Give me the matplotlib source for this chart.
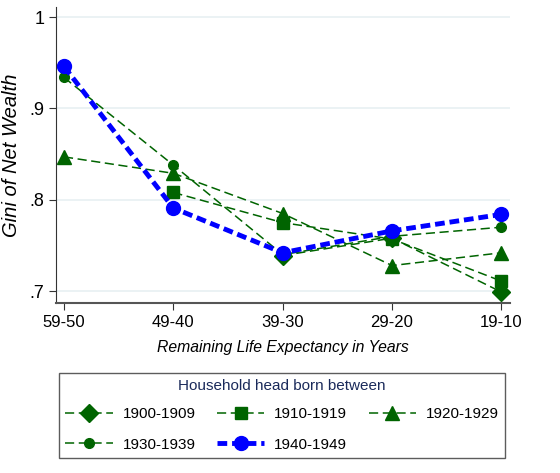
import matplotlib
matplotlib.use("Agg")
import matplotlib.pyplot as plt
import numpy as np

plt.rcParams['font.family'] = ['Liberation Sans', 'DejaVu Sans']

# age groups (remaining life expectancy)
groups = ['59-50', '49-40', '39-30', '29-20', '19-10']

# Gini of net wealth by birth cohort (None = not observed)
g1900 = [None, None, 0.739, 0.758, 0.699]
g1910 = [None, 0.808, 0.775, 0.757, 0.711]
g1920 = [0.847, 0.829, 0.785, 0.728, 0.742]
g1930 = [0.934, 0.838, 0.740, 0.760, 0.770]
g1940 = [0.946, 0.791, 0.742, 0.766, 0.784]

green = '#006400'
blue = '#0000ff'

fig = plt.figure(figsize=(5.6, 4.73), dpi=100)
ax = fig.add_axes([0.1, 0.3594, 0.811, 0.6256])

x = np.arange(len(groups))

def arr(v):
    return np.array([np.nan if a is None else a for a in v], dtype=float)

h1, = ax.plot(x, arr(g1900), color=green, ls='--', lw=1.1, marker='D', ms=9, dashes=(6, 3))
h2, = ax.plot(x, arr(g1910), color=green, ls='--', lw=1.1, marker='s', ms=9, dashes=(6, 3))
h3, = ax.plot(x, arr(g1920), color=green, ls='--', lw=1.1, marker='^', ms=10, dashes=(6, 3))
h4, = ax.plot(x, arr(g1930), color=green, ls='--', lw=1.1, marker='o', ms=7, dashes=(6, 3))
h5, = ax.plot(x, arr(g1940), color=blue, ls='--', lw=3.5, marker='o', ms=10, dashes=(2, 1))

ax.set_xlim(-0.073, 4.08)
ax.set_ylim(0.687, 1.011)
ax.set_xticks(x)
ax.set_xticklabels(groups, fontsize=12)
ax.set_yticks([0.7, 0.8, 0.9, 1.0])
ax.set_yticklabels(['.7', '.8', '.9', '1'], fontsize=13)
ax.grid(axis='y', color='#e8f0f2', lw=1.2)
ax.set_axisbelow(True)
for s in ['top', 'right']:
    ax.spines[s].set_visible(False)
ax.spines['left'].set_color('#333333')
ax.spines['bottom'].set_color('#555555')
ax.spines['bottom'].set_linewidth(1.5)
ax.tick_params(axis='both', color='#333333', length=5)
ax.set_ylabel('Gini of Net Wealth', fontsize=14.5, style='italic', labelpad=6)
ax.set_xlabel('Remaining Life Expectancy in Years', fontsize=11.3, style='italic', labelpad=7)

leg = fig.legend([h1, h4, h2, h5, h3],
                 ['1900-1909', '1930-1939', '1910-1919', '1940-1949', '1920-1929'],
                 ncol=3, loc='upper center', bbox_to_anchor=(0.5036, 0.2114),
                 title='Household head born between', fontsize=11,
                 title_fontsize=11, frameon=True, fancybox=False,
                 handlelength=3.1, handletextpad=0.65, columnspacing=1.4,
                 borderpad=0.4, labelspacing=1.08, borderaxespad=0)
leg._legend_box.sep = 10
leg.get_title().set_color('#1a2a5a')
leg.get_frame().set_edgecolor('#333333')
leg.get_frame().set_linewidth(1.0)

fig.savefig('out.png', dpi=100)
